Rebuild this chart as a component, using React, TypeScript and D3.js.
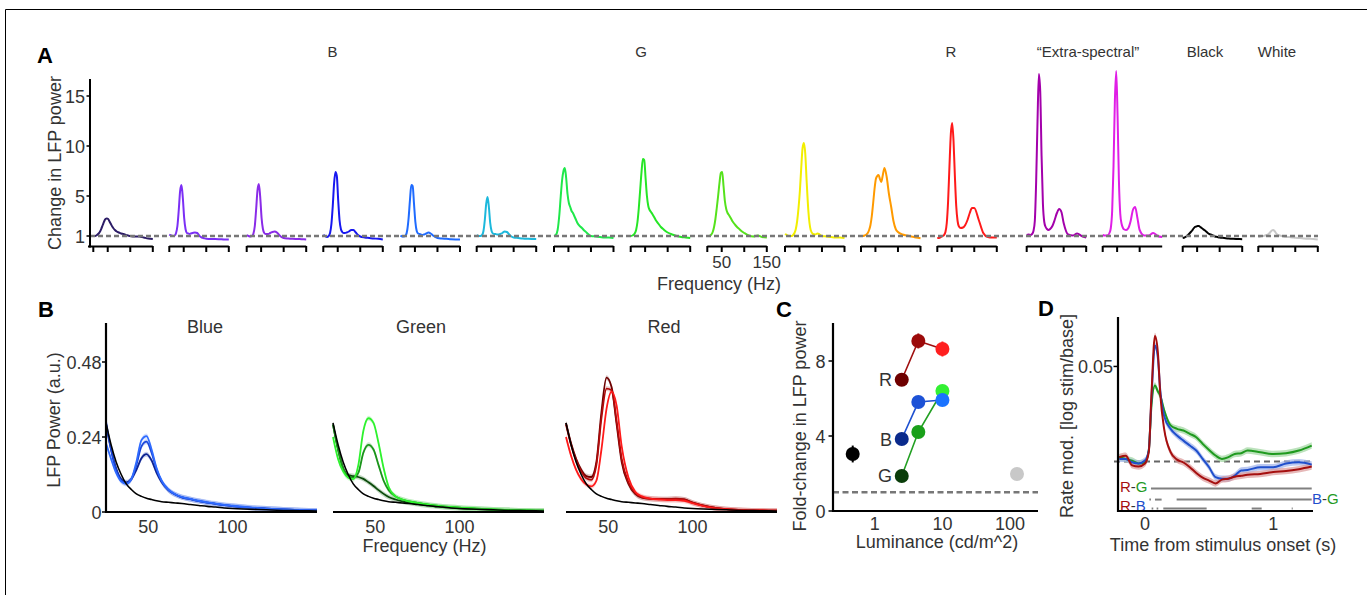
import React from 'react';
import * as d3 from 'd3';

// ---------------- Panel A data ----------------
const freqA = [18, 22, 26, 30, 33, 36, 39, 42, 45, 48, 51, 54, 57, 60, 63, 66, 70, 75, 80, 85, 90, 95, 100, 110, 120, 130, 140, 150];
const aTicks = [18, 50, 100, 150];
const aYTicks = [1, 5, 10, 15];

const aDarkViolet = [1.0, 1.0, 1.1, 1.25, 1.45, 1.75, 2.1, 2.45, 2.7, 2.75, 2.7, 2.45, 2.2, 1.95, 1.75, 1.6, 1.45, 1.35, 1.25, 1.2, 1.1, 1.05, 1.0, 0.95, 0.95, 0.85, 0.75, 0.7];
const aViolet1 = [1.15, 1.05, 1.0, 1.05, 1.3, 2.0, 3.6, 5.5, 6.1, 4.8, 2.8, 1.7, 1.3, 1.25, 1.2, 1.25, 1.3, 1.35, 1.3, 1.0, 0.85, 0.78, 0.72, 0.7, 0.7, 0.68, 0.65, 0.65];
const aViolet2 = [1.1, 1.0, 0.95, 1.0, 1.25, 2.0, 3.7, 5.6, 6.2, 4.9, 2.8, 1.7, 1.3, 1.2, 1.2, 1.2, 1.3, 1.4, 1.45, 1.35, 1.1, 0.9, 0.8, 0.75, 0.72, 0.7, 0.68, 0.66];
const aBlue1 = [1.1, 1.0, 0.9, 1.0, 1.3, 2.2, 4.0, 6.3, 7.4, 7.0, 4.6, 2.6, 1.7, 1.4, 1.3, 1.3, 1.35, 1.45, 1.6, 1.6, 1.35, 1.1, 0.95, 0.85, 0.8, 0.75, 0.72, 0.65];
const aBlue2 = [1.05, 0.95, 0.95, 1.1, 1.6, 2.8, 4.6, 6.1, 6.0, 4.2, 2.4, 1.5, 1.25, 1.2, 1.15, 1.1, 1.15, 1.25, 1.35, 1.25, 1.05, 0.9, 0.8, 0.75, 0.72, 0.68, 0.66, 0.65];
const aCyan = [1.1, 1.0, 1.0, 1.1, 1.5, 2.6, 4.2, 4.9, 3.9, 2.3, 1.5, 1.25, 1.2, 1.2, 1.15, 1.15, 1.2, 1.3, 1.45, 1.4, 1.15, 0.95, 0.85, 0.8, 0.75, 0.72, 0.7, 0.7];
const aGreen1 = [1.0, 1.1, 1.6, 3.2, 5.0, 6.6, 7.5, 7.8, 6.8, 5.2, 4.3, 3.9, 3.5, 3.3, 3.0, 2.7, 2.3, 2.0, 1.8, 1.55, 1.35, 1.15, 1.0, 0.95, 0.9, 0.85, 0.85, 0.8];
const aGreen2 = [1.0, 1.05, 1.2, 1.6, 2.4, 3.8, 5.6, 7.4, 8.7, 8.6, 6.8, 5.0, 4.0, 3.6, 3.4, 3.2, 2.9, 2.5, 2.2, 1.9, 1.7, 1.5, 1.35, 1.15, 1.0, 0.9, 0.85, 0.8];
const aGreen3 = [1.0, 1.0, 1.1, 1.4, 1.9, 2.7, 3.8, 5.0, 6.3, 7.3, 7.4, 6.0, 4.5, 3.7, 3.3, 3.1, 2.8, 2.4, 2.1, 1.85, 1.65, 1.45, 1.3, 1.05, 0.95, 1.05, 0.9, 0.85];
const aYellow = [1.2, 1.1, 1.0, 1.0, 1.0, 1.1, 1.3, 1.7, 2.5, 3.8, 5.5, 7.8, 9.8, 10.3, 9.2, 6.5, 3.4, 1.6, 1.2, 1.15, 1.25, 1.15, 1.0, 0.95, 0.9, 0.85, 0.85, 0.8];
const aOrange = [1.0, 1.0, 1.05, 1.15, 1.3, 1.6, 2.1, 3.0, 4.3, 5.7, 6.7, 7.0, 7.1, 6.7, 6.4, 7.0, 7.8, 6.9, 5.2, 3.9, 2.5, 1.7, 1.4, 1.15, 1.05, 0.95, 0.85, 0.77];
const aRed = [0.8, 0.8, 0.9, 1.0, 1.1, 1.4, 2.3, 4.5, 8.0, 11.2, 12.3, 10.5, 7.0, 4.0, 2.5, 1.95, 1.8, 1.85, 2.1, 2.6, 3.3, 3.8, 3.8, 2.6, 1.3, 0.9, 0.85, 0.85];
const aPurple = [1.1, 1.15, 1.1, 1.2, 1.5, 2.5, 6.5, 12.5, 17.2, 15.5, 9.0, 4.2, 2.4, 1.9, 1.7, 1.6, 1.7, 2.0, 2.6, 3.3, 3.7, 3.4, 2.3, 1.15, 1.05, 1.25, 1.0, 0.85];
const aMagenta = [1.1, 1.05, 1.05, 1.1, 1.3, 1.8, 3.5, 8.0, 14.5, 17.5, 13.0, 6.5, 3.2, 2.2, 1.8, 1.65, 1.6, 1.8, 2.5, 3.6, 3.9, 2.8, 1.6, 1.05, 1.05, 1.3, 1.0, 0.9];
const aBlack = [0.8, 0.85, 0.95, 1.1, 1.25, 1.4, 1.55, 1.75, 1.9, 1.95, 2.0, 2.0, 1.9, 1.8, 1.7, 1.6, 1.45, 1.25, 1.15, 1.05, 0.95, 0.9, 0.85, 0.8, 0.75, 0.72, 0.7, 0.68];
const aWhite = [0.9, 0.95, 1.0, 1.0, 1.05, 1.1, 1.15, 1.25, 1.4, 1.55, 1.6, 1.5, 1.3, 1.15, 1.1, 1.05, 1.0, 0.95, 0.92, 0.9, 0.88, 0.85, 0.82, 0.8, 0.75, 0.72, 0.7, 0.65];

const aSeries = [aDarkViolet, aViolet1, aViolet2, aBlue1, aBlue2, aCyan, aGreen1, aGreen2, aGreen3, aYellow, aOrange, aRed, aPurple, aMagenta, aBlack, aWhite];
const aColors = ['#2c1c66', '#7b2ff5', '#8a2be8', '#1818f0', '#1f6bff', '#1cb8dc', '#1fe84a', '#26e626', '#55e21c', '#f2ee00', '#ff9a00', '#ff1a1a', '#a300ab', '#e01ee6', '#000000', '#c8c8c8'];
const aTitles = ['B', 'G', 'R', '\u201CExtra-spectral\u201D', 'Black', 'White'];

// ---------------- Panel B data ----------------
const freqB = [25, 28, 31, 34, 37, 40, 43, 46, 49, 52, 55, 58, 62, 66, 70, 75, 80, 85, 90, 95, 100, 110, 120, 130, 140, 150];
const bBaseline = [0.285, 0.215, 0.16, 0.12, 0.09, 0.072, 0.058, 0.05, 0.044, 0.04, 0.036, 0.033, 0.031, 0.029, 0.027, 0.024, 0.021, 0.018, 0.016, 0.013, 0.011, 0.009, 0.007, 0.005, 0.004, 0.003];
const bBlueDark = [0.28, 0.2, 0.14, 0.105, 0.095, 0.105, 0.135, 0.172, 0.185, 0.165, 0.125, 0.095, 0.07, 0.056, 0.047, 0.041, 0.035, 0.03, 0.026, 0.022, 0.019, 0.014, 0.011, 0.008, 0.006, 0.005];
const bBlueMid = [0.29, 0.2, 0.135, 0.1, 0.092, 0.105, 0.15, 0.21, 0.225, 0.19, 0.135, 0.098, 0.07, 0.056, 0.047, 0.041, 0.035, 0.03, 0.026, 0.022, 0.019, 0.014, 0.011, 0.008, 0.006, 0.005];
const bBlueLight = [0.22, 0.17, 0.125, 0.098, 0.09, 0.105, 0.16, 0.23, 0.243, 0.2, 0.14, 0.1, 0.072, 0.057, 0.048, 0.042, 0.036, 0.031, 0.027, 0.023, 0.02, 0.015, 0.011, 0.008, 0.006, 0.005];
const bGreenDark = [0.28, 0.2, 0.14, 0.118, 0.115, 0.112, 0.106, 0.095, 0.083, 0.07, 0.058, 0.048, 0.04, 0.034, 0.03, 0.026, 0.022, 0.019, 0.016, 0.014, 0.012, 0.009, 0.007, 0.006, 0.005, 0.004];
const bGreenMid = [0.28, 0.2, 0.14, 0.115, 0.11, 0.125, 0.19, 0.215, 0.2, 0.15, 0.1, 0.07, 0.05, 0.04, 0.034, 0.029, 0.025, 0.021, 0.018, 0.016, 0.014, 0.011, 0.008, 0.006, 0.005, 0.004];
const bGreenLight = [0.24, 0.17, 0.13, 0.11, 0.105, 0.15, 0.26, 0.3, 0.285, 0.22, 0.14, 0.08, 0.05, 0.04, 0.034, 0.029, 0.025, 0.021, 0.018, 0.016, 0.014, 0.011, 0.008, 0.006, 0.005, 0.004];
const bRedDark = [0.285, 0.22, 0.17, 0.135, 0.115, 0.112, 0.16, 0.32, 0.43, 0.4, 0.28, 0.16, 0.09, 0.058, 0.046, 0.042, 0.041, 0.041, 0.042, 0.04, 0.03, 0.016, 0.009, 0.006, 0.005, 0.004];
const bRedMid = [0.28, 0.215, 0.165, 0.13, 0.108, 0.103, 0.15, 0.3, 0.395, 0.39, 0.29, 0.17, 0.095, 0.06, 0.047, 0.043, 0.042, 0.041, 0.043, 0.04, 0.03, 0.016, 0.009, 0.006, 0.005, 0.004];
const bRedLight = [0.24, 0.18, 0.135, 0.105, 0.088, 0.082, 0.1, 0.2, 0.33, 0.385, 0.34, 0.21, 0.11, 0.065, 0.05, 0.043, 0.04, 0.038, 0.038, 0.036, 0.028, 0.015, 0.009, 0.006, 0.005, 0.004];
const bTitles = ['Blue', 'Green', 'Red'];
const bYTicks = [0, 0.24, 0.48];
const bXTicks = [50, 100];

// ---------------- Panel C data ----------------
const cLum = [2.5, 4.4, 10];
const cRed = [7.0, 9.07, 8.64];
const cBlue = [3.84, 5.81, 5.92];
const cGreen = [1.87, 4.21, 6.4];
const cRedErr = [0.15, 0.4, 0.4];
const cBlueErr = [0.15, 0.25, 0.25];
const cGreenErr = [0.12, 0.15, 0.15];
const cBlackLum = 0.47, cBlackFold = 3.04, cBlackErr = 0.45;
const cWhiteLum = 127, cWhiteFold = 1.97, cWhiteErr = 0.1;
const cYTicks = [0, 4, 8];
const cXTicks = [1, 10, 100];

// ---------------- Panel D data ----------------
const tD = [-0.2, -0.15, -0.1, -0.05, 0, 0.03, 0.05, 0.078, 0.1, 0.12, 0.15, 0.2, 0.25, 0.3, 0.35, 0.4, 0.45, 0.5, 0.55, 0.6, 0.65, 0.7, 0.75, 0.8, 0.9, 1.0, 1.1, 1.2, 1.3];
const dRed = [0.0023, 0.003, -0.002, -0.0026, -0.001, 0.005, 0.034, 0.066, 0.058, 0.035, 0.017, 0.005, 0.001, -0.0005, -0.003, -0.006, -0.0085, -0.01, -0.0115, -0.0095, -0.009, -0.008, -0.0075, -0.007, -0.0065, -0.0055, -0.005, -0.004, -0.0026];
const dBlue = [0.0014, 0.0014, -0.0004, -0.001, 0.0005, 0.006, 0.032, 0.061, 0.055, 0.037, 0.024, 0.0172, 0.0137, 0.011, 0.0084, 0.0058, 0.0014, -0.003, -0.0082, -0.009, -0.009, -0.0074, -0.0047, -0.0044, -0.003, -0.003, -0.001, -0.0004, -0.0016];
const dGreen = [0.0023, 0.0014, 0.0005, -0.001, -0.0004, 0.006, 0.0286, 0.04, 0.037, 0.0345, 0.027, 0.019, 0.0172, 0.0163, 0.0146, 0.0128, 0.0093, 0.0061, 0.0032, 0.0014, 0.0023, 0.004, 0.0044, 0.0058, 0.0049, 0.004, 0.0044, 0.0058, 0.0084];
const dSigRG = [[0.047, 1.3]];
const dSigBG = [[0.034, 0.047], [0.078, 0.13], [0.247, 1.3]];
const dSigRB = [[0.052, 0.065], [0.091, 0.104], [0.143, 0.481], [0.832, 0.91], [1.144, 1.152]];
const dXTicks = [0, 1];

// ---------------- Styling / layout ----------------
const FONT = "'Liberation Sans', Arial, Helvetica, sans-serif";
const TXT = '#333';
const aStarts = [93.3, 169.3, 246.7, 323.3, 400.5, 476.7, 554, 630.7, 707.3, 785, 861, 937.3, 1026.7, 1102.7, 1182.7, 1258.3];
const aTitleX = [332.5, 641, 951, 1088, 1205, 1277];
const bStarts = [106, 333, 566];
const bTitleX = [205, 421, 664];

export default function App() {
  // ---- Panel A ----
  const aW = 59.5;
  const aY = d3.scaleLinear().domain([0, 16.7]).range([246, 79]);
  const panelA = aSeries.map((vals, k) => {
    const s = aStarts[k];
    const x = d3.scaleLinear().domain([18, 150]).range([s, s + aW]);
    const line = d3.line<number>().x((_, i) => x(freqA[i])).y((v) => aY(v)).curve(d3.curveMonotoneX);
    return (
      <g key={'a' + k}>
        <path d={line(vals) || ''} fill="none" stroke={aColors[k]} strokeWidth={2} strokeLinejoin="round" />
        <line x1={k === 0 ? 88 : s} x2={s + aW} y1={246.5} y2={246.5} stroke="#000" strokeWidth={2} />
        {aTicks.map((t) =>
          k === 13 && t === 150 ? null : (
            <line key={t} x1={x(t)} x2={x(t)} y1={246} y2={252} stroke="#000" strokeWidth={2} />
          )
        )}
      </g>
    );
  });
  const x9 = d3.scaleLinear().domain([18, 150]).range([aStarts[8], aStarts[8] + aW]);

  // ---- Panel B ----
  const bW = 211;
  const bY = d3.scaleLinear().domain([0, 0.6]).range([512, 324.5]);
  const bGroups = [
    { series: [bBlueDark, bBlueMid, bBlueLight], colors: ['#0c2290', '#1a45d8', '#2f6bff'], band: ['#7f93d6', '#8aa2ee', '#9fbaff'] },
    { series: [bGreenDark, bGreenMid, bGreenLight], colors: ['#0b4a0b', '#1b941b', '#2ef22e'], band: ['#7fae7f', '#8fd08f', '#a0f5a0'] },
    { series: [bRedDark, bRedMid, bRedLight], colors: ['#6e0000', '#b00a0a', '#ff1a1a'], band: ['#b08080', '#d89090', '#ffa0a0'] },
  ];
  const panelB = bGroups.map((g, k) => {
    const s = bStarts[k];
    const x = d3.scaleLinear().domain([25, 150]).range([s, s + bW]);
    const line = d3.line<number>().x((_, i) => x(freqB[i])).y((v) => bY(v)).curve(d3.curveMonotoneX);
    const area = d3
      .area<number>()
      .x((_, i) => x(freqB[i]))
      .y0((v) => bY(Math.max(0, v - 0.008)))
      .y1((v) => bY(v + 0.008))
      .curve(d3.curveMonotoneX);
    return (
      <g key={'b' + k}>
        {g.series.map((vals, j) => (
          <path key={'ba' + j} d={area(vals) || ''} fill={g.band[j]} opacity={0.45} />
        ))}
        {g.series.map((vals, j) => (
          <path key={'bl' + j} d={line(vals) || ''} fill="none" stroke={g.colors[j]} strokeWidth={1.8} />
        ))}
        <path d={line(bBaseline) || ''} fill="none" stroke="#000" strokeWidth={1.6} />
        <line x1={k === 0 ? 106 : s} x2={s + bW} y1={512} y2={512} stroke="#000" strokeWidth={2.2} />
        {bXTicks.map((t) => (
          <text key={t} x={x(t)} y={533} textAnchor="middle" fontSize={18} fill={TXT}>
            {t}
          </text>
        ))}
        <text x={bTitleX[k]} y={333} textAnchor="middle" fontSize={18} fill={TXT}>
          {bTitles[k]}
        </text>
      </g>
    );
  });

  // ---- Panel C ----
  const cX = d3.scaleLog().domain([0.24, 260]).range([833, 1038]);
  const cY = d3.scaleLinear().domain([0, 10]).range([511, 323.5]);
  const cLine = d3.line<number>().x((_, i) => cX(cLum[i])).y((v) => cY(v));
  const cGroups = [
    { vals: cGreen, err: cGreenErr, line: '#22a022', cols: ['#0a3d0a', '#1aa01a', '#33f033'], label: 'G' },
    { vals: cBlue, err: cBlueErr, line: '#1e50d0', cols: ['#0a2a8c', '#1d52d6', '#1a73ff'], label: 'B' },
    { vals: cRed, err: cRedErr, line: '#a01010', cols: ['#6e0000', '#9c0a0a', '#ff1f1f'], label: 'R' },
  ];
  const R = 7;

  // ---- Panel D ----
  const dX = d3.scaleLinear().domain([-0.21, 1.31]).range([1118, 1313]);
  const dY = d3.scaleLinear().domain([-0.026, 0.076]).range([511, 317]);
  const dLine = d3.line<number>().x((_, i) => dX(tD[i])).y((v) => dY(v)).curve(d3.curveMonotoneX);
  const dArea = d3
    .area<number>()
    .x((_, i) => dX(tD[i]))
    .y0((v) => dY(v - 0.0017))
    .y1((v) => dY(v + 0.0017))
    .curve(d3.curveMonotoneX);
  const dSeries = [
    { vals: dGreen, col: '#1f9a1f', band: '#9fd69f' },
    { vals: dBlue, col: '#1f4fcc', band: '#9fb2ea' },
    { vals: dRed, col: '#a50f0f', band: '#dc9a9a' },
  ];
  const sigRows = [
    { segs: dSigRG, v: -0.0142 },
    { segs: dSigBG, v: -0.02 },
    { segs: dSigRB, v: -0.0247 },
  ];
  const cR = '#a50f0f', cG = '#1f9a1f', cB = '#1f4fcc';

  return (
    <svg
      width={1367}
      height={595}
      style={{ position: 'absolute', left: 0, top: 0, background: '#fff' }}
      fontFamily={FONT}
    >
      <rect x={0} y={0} width={1367} height={595} fill="#fff" />
      <path d="M5.5,595 V9.5 H1367" stroke="#000" strokeWidth={1} fill="none" />

      {/* Panel letters */}
      <text x={37} y={63} fontSize={22} fontWeight="bold" fill="#000">A</text>
      <text x={38} y={316.5} fontSize={22} fontWeight="bold" fill="#000">B</text>
      <text x={776} y={316.5} fontSize={22} fontWeight="bold" fill="#000">C</text>
      <text x={1038} y={315.5} fontSize={22} fontWeight="bold" fill="#000">D</text>

      {/* ---------- Panel A ---------- */}
      {aTitles.map((t, i) => (
        <text key={t} x={aTitleX[i]} y={57} textAnchor="middle" fontSize={15} fill={TXT}>
          {t}
        </text>
      ))}
      {panelA}
      <line x1={90} x2={1318} y1={aY(1)} y2={aY(1)} stroke="#777" strokeWidth={2.5} strokeDasharray="5,3" />
      <line x1={90} x2={90} y1={79} y2={247.5} stroke="#000" strokeWidth={2} />
      {aYTicks.map((t) => (
        <g key={t}>
          <line x1={86.5} x2={90} y1={aY(t)} y2={aY(t)} stroke="#000" strokeWidth={1.5} />
          <text x={85} y={aY(t) + 6.5} textAnchor="end" fontSize={18} fill={TXT}>
            {t}
          </text>
        </g>
      ))}
      <text transform="translate(61,163) rotate(-90)" textAnchor="middle" fontSize={18} fill={TXT}>
        Change in LFP power
      </text>
      <text x={x9(50)} y={268} textAnchor="middle" fontSize={17} fill={TXT}>50</text>
      <text x={x9(150)} y={268} textAnchor="middle" fontSize={17} fill={TXT}>150</text>
      <text x={719} y={290} textAnchor="middle" fontSize={18} fill={TXT}>Frequency (Hz)</text>

      {/* ---------- Panel B ---------- */}
      {panelB}
      <line x1={106} x2={106} y1={323} y2={513} stroke="#000" strokeWidth={2.2} />
      {bYTicks.map((t) => (
        <g key={t}>
          <line x1={102} x2={106} y1={bY(t)} y2={bY(t)} stroke="#000" strokeWidth={1.5} />
          <text x={101.5} y={bY(t) + 6.5} textAnchor="end" fontSize={18} fill={TXT}>
            {t === 0 ? '0' : t.toFixed(2)}
          </text>
        </g>
      ))}
      <text transform="translate(60,420) rotate(-90)" textAnchor="middle" fontSize={18} fill={TXT}>
        LFP Power (a.u.)
      </text>
      <text x={424.5} y={552} textAnchor="middle" fontSize={18} fill={TXT}>Frequency (Hz)</text>

      {/* ---------- Panel C ---------- */}
      <line x1={833} x2={1038} y1={cY(1)} y2={cY(1)} stroke="#777" strokeWidth={2.5} strokeDasharray="6,3.5" />
      {cGroups.map((g) => (
        <path key={'cl' + g.label} d={cLine(g.vals) || ''} fill="none" stroke={g.line} strokeWidth={1.6} />
      ))}
      {cGroups.map((g) =>
        g.vals.map((v, i) => (
          <g key={'cm' + g.label + i}>
            <line x1={cX(cLum[i])} x2={cX(cLum[i])} y1={cY(v - g.err[i])} y2={cY(v + g.err[i])} stroke={g.cols[i]} strokeWidth={2} />
            <circle cx={cX(cLum[i])} cy={cY(v)} r={R} fill={g.cols[i]} />
          </g>
        ))
      )}
      {cGroups.map((g) => (
        <text key={'ct' + g.label} x={892} y={cY(g.vals[0]) + 6.5} textAnchor="end" fontSize={18} fill={TXT}>
          {g.label}
        </text>
      ))}
      <line x1={cX(cBlackLum)} x2={cX(cBlackLum)} y1={cY(cBlackFold - cBlackErr)} y2={cY(cBlackFold + cBlackErr)} stroke="#000" strokeWidth={2} />
      <circle cx={cX(cBlackLum)} cy={cY(cBlackFold)} r={R} fill="#000" />
      <line x1={cX(cWhiteLum)} x2={cX(cWhiteLum)} y1={cY(cWhiteFold - cWhiteErr)} y2={cY(cWhiteFold + cWhiteErr)} stroke="#c8c8c8" strokeWidth={2} />
      <circle cx={cX(cWhiteLum)} cy={cY(cWhiteFold)} r={R} fill="#c8c8c8" />
      <line x1={833} x2={833} y1={323} y2={512} stroke="#000" strokeWidth={2.2} />
      <line x1={832} x2={1038} y1={511} y2={511} stroke="#000" strokeWidth={2.2} />
      {cYTicks.map((t) => (
        <g key={t}>
          <line x1={828.5} x2={833} y1={cY(t)} y2={cY(t)} stroke="#000" strokeWidth={1.5} />
          <text x={825.5} y={cY(t) + 6.5} textAnchor="end" fontSize={18} fill={TXT}>
            {t}
          </text>
        </g>
      ))}
      {cXTicks.map((t) => (
        <text key={t} x={cX(t)} y={530} textAnchor="middle" fontSize={18} fill={TXT}>
          {t}
        </text>
      ))}
      <text x={937} y={548} textAnchor="middle" fontSize={18} fill={TXT}>Luminance (cd/m^2)</text>
      <text transform="translate(806,426) rotate(-90)" textAnchor="middle" fontSize={18} fill={TXT}>
        Fold-change in LFP power
      </text>

      {/* ---------- Panel D ---------- */}
      <line x1={1114} x2={1313} y1={dY(0)} y2={dY(0)} stroke="#666" strokeWidth={2} strokeDasharray="6,4" />
      {dSeries.map((s, i) => (
        <path key={'da' + i} d={dArea(s.vals) || ''} fill={s.band} opacity={0.7} />
      ))}
      {dSeries.map((s, i) => (
        <path key={'dl' + i} d={dLine(s.vals) || ''} fill="none" stroke={s.col} strokeWidth={2} />
      ))}
      {sigRows.map((row, r) =>
        row.segs.map((sg, j) => (
          <line key={'sg' + r + '-' + j} x1={dX(sg[0])} x2={dX(sg[1])} y1={dY(row.v)} y2={dY(row.v)} stroke="#808080" strokeWidth={2} />
        ))
      )}
      <text x={1120} y={492} fontSize={15}>
        <tspan fill={cR}>R</tspan>
        <tspan fill={TXT}>-</tspan>
        <tspan fill={cG}>G</tspan>
      </text>
      <text x={1120} y={511} fontSize={15}>
        <tspan fill={cR}>R</tspan>
        <tspan fill={TXT}>-</tspan>
        <tspan fill={cB}>B</tspan>
      </text>
      <text x={1312} y={503.5} fontSize={15}>
        <tspan fill={cB}>B</tspan>
        <tspan fill={TXT}>-</tspan>
        <tspan fill={cG}>G</tspan>
      </text>
      <line x1={1118} x2={1118} y1={317} y2={512} stroke="#000" strokeWidth={2.2} />
      <line x1={1117} x2={1313} y1={511} y2={511} stroke="#000" strokeWidth={2.2} />
      <line x1={1113.5} x2={1118} y1={dY(0.05)} y2={dY(0.05)} stroke="#000" strokeWidth={1.5} />
      <text x={1113} y={dY(0.05) + 6.5} textAnchor="end" fontSize={18} fill={TXT}>0.05</text>
      {dXTicks.map((t) => (
        <text key={t} x={dX(t)} y={530} textAnchor="middle" fontSize={18} fill={TXT}>
          {t}
        </text>
      ))}
      <text x={1223} y={551} textAnchor="middle" fontSize={18} fill={TXT}>Time from stimulus onset (s)</text>
      <text transform="translate(1073,416) rotate(-90)" textAnchor="middle" fontSize={18} fill={TXT}>
        Rate mod. [log stim/base]
      </text>
    </svg>
  );
}
